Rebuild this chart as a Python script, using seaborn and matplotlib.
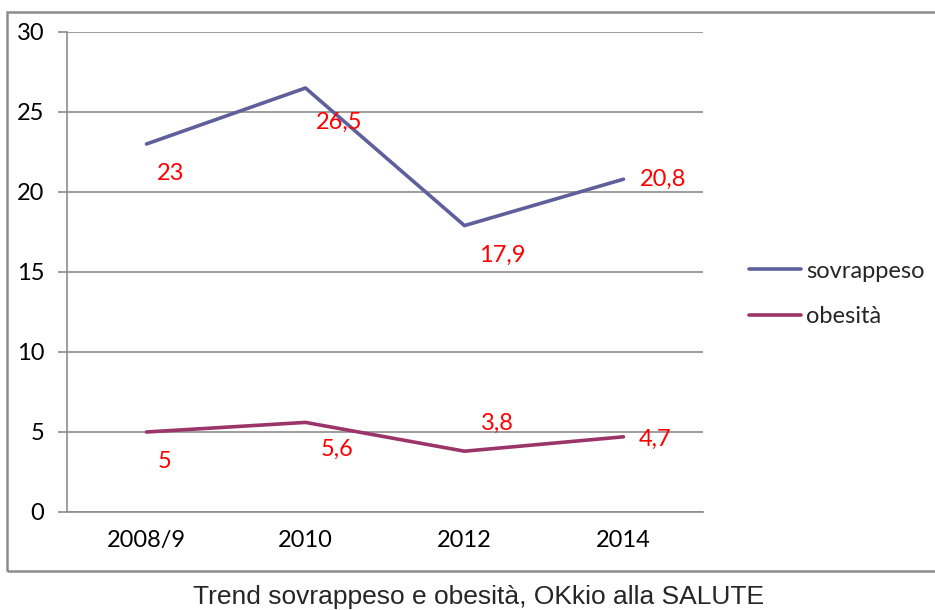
import matplotlib
matplotlib.use("Agg")
import matplotlib.pyplot as plt
import matplotlib.patches as mpatches
import seaborn as sns
import pandas as pd

categories = ["2008/9", "2010", "2012", "2014"]
sovrappeso = [23, 26.5, 17.9, 20.8]
obesita = [5, 5.6, 3.8, 4.7]
series_names = ["sovrappeso", "obesità"]
title = "Trend sovrappeso e obesità, OKkio alla SALUTE"

sns.set_theme(style="white")
plt.rcParams["font.family"] = ["Lato", "DejaVu Sans"]

df = pd.DataFrame({
    "pos": list(range(len(categories))) * 2,
    "value": sovrappeso + obesita,
    "serie": [series_names[0]] * len(categories) + [series_names[1]] * len(categories),
})

colors = {"sovrappeso": "#5F5F9B", "obesità": "#9B3569"}
FS = 17

fig = plt.figure(figsize=(9.35, 6.1), dpi=100)
ax = fig.add_axes([67 / 935, 98 / 610, 636 / 935, 480 / 610])

sns.lineplot(data=df, x="pos", y="value", hue="serie", palette=colors,
             linewidth=2.6, ax=ax, legend=False)

ax.set_xlim(-0.5, len(categories) - 0.5)
ax.set_ylim(0, 30)
ax.set_yticks(range(0, 31, 5))
ax.yaxis.grid(True, color="#8C8C8C", linewidth=1.2)
ax.set_axisbelow(True)
for s in ["top", "right"]:
    ax.spines[s].set_visible(False)
for s in ["left", "bottom"]:
    ax.spines[s].set_color("#8C8C8C")
    ax.spines[s].set_linewidth(1.2)

ax.set_xticks(range(len(categories)))
ax.set_xticklabels(categories)
ax.set_xticks([i - 0.5 for i in range(len(categories) + 1)], minor=True)
ax.tick_params(axis="x", which="major", length=0, pad=13, labelsize=FS, labelcolor="black")
ax.tick_params(axis="x", which="minor", length=6, width=1.2, color="#8C8C8C", direction="out")
ax.tick_params(axis="y", length=6.5, width=1.2, color="#8C8C8C", direction="out", pad=10,
               labelsize=FS, labelcolor="black", left=True)
ax.set_xlabel("")
ax.set_ylabel("")

offsets_s = [(24, -29), (34, -34), (38, -30), (40, 0)]
offsets_o = [(18, -30), (32, -27), (33, 28), (32, -3)]
for vals, offs in [(sovrappeso, offsets_s), (obesita, offsets_o)]:
    for i, (v, (dx, dy)) in enumerate(zip(vals, offs)):
        ax.annotate(str(v).replace(".", ","), (i, v), xytext=(dx, dy),
                    textcoords="offset pixels", ha="center", va="center",
                    color="#FF0000", fontsize=FS)

handles = [plt.Line2D([], [], color=colors[n], linewidth=2.6) for n in series_names]
fig.legend(handles, series_names, loc="center left", bbox_to_anchor=(728 / 935, 1 - 294 / 610),
           frameon=False, fontsize=FS, handlelength=2.2, handletextpad=0.2,
           labelspacing=1.05)

frame = mpatches.Rectangle((7 / 935, 39 / 610), 1.2, 559 / 610, transform=fig.transFigure,
                           fill=False, edgecolor="#8C8C8C", linewidth=1.8, clip_on=False)
fig.add_artist(frame)

fig.text(479 / 935, 1 - 597 / 610, title, ha="center", va="center",
         fontsize=19, family=["Liberation Sans", "DejaVu Sans"])

fig.savefig("out.png", dpi=100)
